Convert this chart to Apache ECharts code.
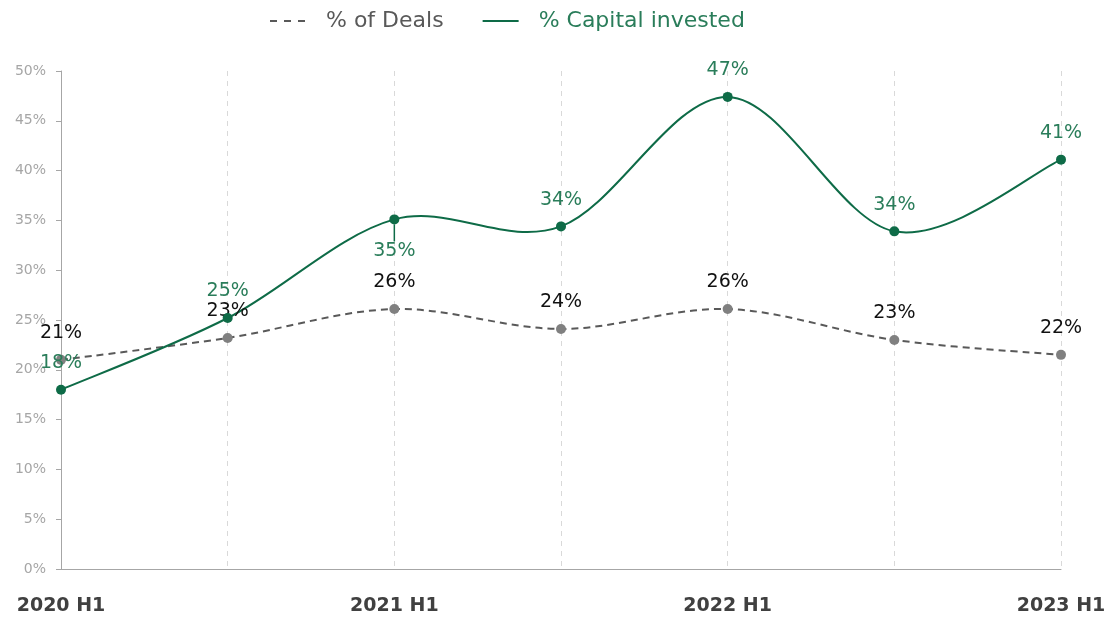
<!DOCTYPE html>
<html>
<head>
<meta charset="utf-8">
<script src="https://cdn.jsdelivr.net/npm/echarts@6/dist/echarts.min.js"></script>
<style>
  html, body { margin: 0; padding: 0; background: #fff; }
  #chart { width: 1110px; height: 619px; }
</style>
</head>
<body>
<div id="chart"></div>
<script>
// data
var categories = ['2020 H1', '2020 H2', '2021 H1', '2021 H2', '2022 H1', '2022 H2', '2023 H1'];
var dealsPct = [21.0, 23.2, 26.1, 24.1, 26.1, 23.0, 21.5];
var capitalPct = [18.0, 25.2, 35.1, 34.4, 47.4, 33.9, 41.1];
var yTicks = [0, 50, 5];

var FONT = 'DejaVu Sans';
var GREEN = '#0e6b47';
var GREEN_TXT = '#2a7d5a';
var GREY = '#595959';

var myChart = echarts.init(document.getElementById('chart'));

// excel-like smoothed curve (catmull-rom as bezier), drawn through the axes
function curveItem(values, color, dash) {
  return function (params, api) {
    if (params.dataIndex !== 0) return null;
    var pts = values.map(function (v, i) { return api.coord([i, v]); });
    var d = 'M' + pts[0][0] + ' ' + pts[0][1];
    for (var i = 0; i < pts.length - 1; i++) {
      var p0 = pts[Math.max(i - 1, 0)];
      var p1 = pts[i];
      var p2 = pts[i + 1];
      var p3 = pts[Math.min(i + 2, pts.length - 1)];
      var c1x = p1[0] + (p2[0] - p0[0]) / 6, c1y = p1[1] + (p2[1] - p0[1]) / 6;
      var c2x = p2[0] - (p3[0] - p1[0]) / 6, c2y = p2[1] - (p3[1] - p1[1]) / 6;
      d += ' C' + c1x + ' ' + c1y + ' ' + c2x + ' ' + c2y + ' ' + p2[0] + ' ' + p2[1];
    }
    return {
      type: 'path',
      shape: { pathData: d },
      style: { fill: 'none', stroke: color, lineWidth: 2, lineDash: dash || null }
    };
  };
}

var pctLabel = function (p) { return Math.round(p.value) + '%'; };

var options = {
  textStyle: { fontFamily: FONT },
  animation: false,
  legend: {
    top: 5,
    left: 264,
    itemWidth: 36,
    itemGap: 38,
    textStyle: { fontSize: 22, fontFamily: FONT, padding: [0, 0, 0, 15] },
    data: [
      {
        name: '% of Deals',
        textStyle: { color: GREY },
        itemStyle: { opacity: 0 },
        lineStyle: { opacity: 1, color: GREY, width: 2, type: [7, 7] }
      },
      {
        name: '% Capital invested',
        textStyle: { color: GREEN_TXT },
        itemStyle: { opacity: 0 },
        lineStyle: { opacity: 1, color: GREEN, width: 2, type: 'solid' }
      }
    ]
  },
  grid: { left: 61, right: 49, top: 71, bottom: 50 },
  xAxis: {
    type: 'category',
    data: categories,
    boundaryGap: false,
    axisLine: { lineStyle: { color: '#a6a6a6', width: 1 } },
    axisTick: { show: false },
    axisLabel: {
      interval: 1,
      margin: 28,
      fontSize: 19,
      fontWeight: 'bold',
      color: '#404040',
      fontFamily: FONT
    },
    splitLine: { show: true, interval: 0, lineStyle: { color: '#d9d9d9', type: [5, 5], width: 1 } }
  },
  yAxis: {
    type: 'value',
    min: yTicks[0],
    max: yTicks[1],
    interval: yTicks[2],
    axisLine: { show: true, lineStyle: { color: '#a6a6a6', width: 1 } },
    axisTick: { show: true, length: 5, lineStyle: { color: '#a6a6a6' } },
    axisLabel: { formatter: '{value}%', fontSize: 14, color: '#a6a6a6', margin: 15 },
    splitLine: { show: false }
  },
  series: [
    {
      type: 'custom',
      renderItem: curveItem(dealsPct, GREY, [7, 5]),
      data: dealsPct.map(function (v, i) { return [i, v]; }),
      silent: true,
      z: 1
    },
    {
      type: 'custom',
      renderItem: curveItem(capitalPct, GREEN),
      data: capitalPct.map(function (v, i) { return [i, v]; }),
      silent: true,
      z: 1
    },
    {
      name: '% of Deals',
      type: 'line',
      data: dealsPct,
      symbol: 'circle',
      symbolSize: 10,
      lineStyle: { color: GREY, width: 2, opacity: 0 },
      itemStyle: { color: '#808080' },
      label: {
        show: true,
        position: 'top',
        distance: 12,
        fontSize: 19,
        color: '#111',
        formatter: pctLabel
      },
      z: 2
    },
    {
      name: '% Capital invested',
      type: 'line',
      data: capitalPct.map(function (v, i) {
        return i === 2 ? { value: v, labelLine: { show: true } } : v;
      }),
      symbol: 'circle',
      symbolSize: 10,
      lineStyle: { color: GREEN, width: 2, opacity: 0 },
      itemStyle: { color: GREEN },
      label: {
        show: true,
        position: 'top',
        distance: 12,
        fontSize: 19,
        color: GREEN_TXT,
        formatter: pctLabel
      },
      labelLine: { show: false, lineStyle: { color: GREEN, width: 1.5 } },
      labelLayout: function (p) {
        if (p.dataIndex === 2) {
          return { dy: 58 };
        }
        return {};
      },
      z: 3
    }
  ]
};

myChart.setOption(options);
</script>
</body>
</html>
